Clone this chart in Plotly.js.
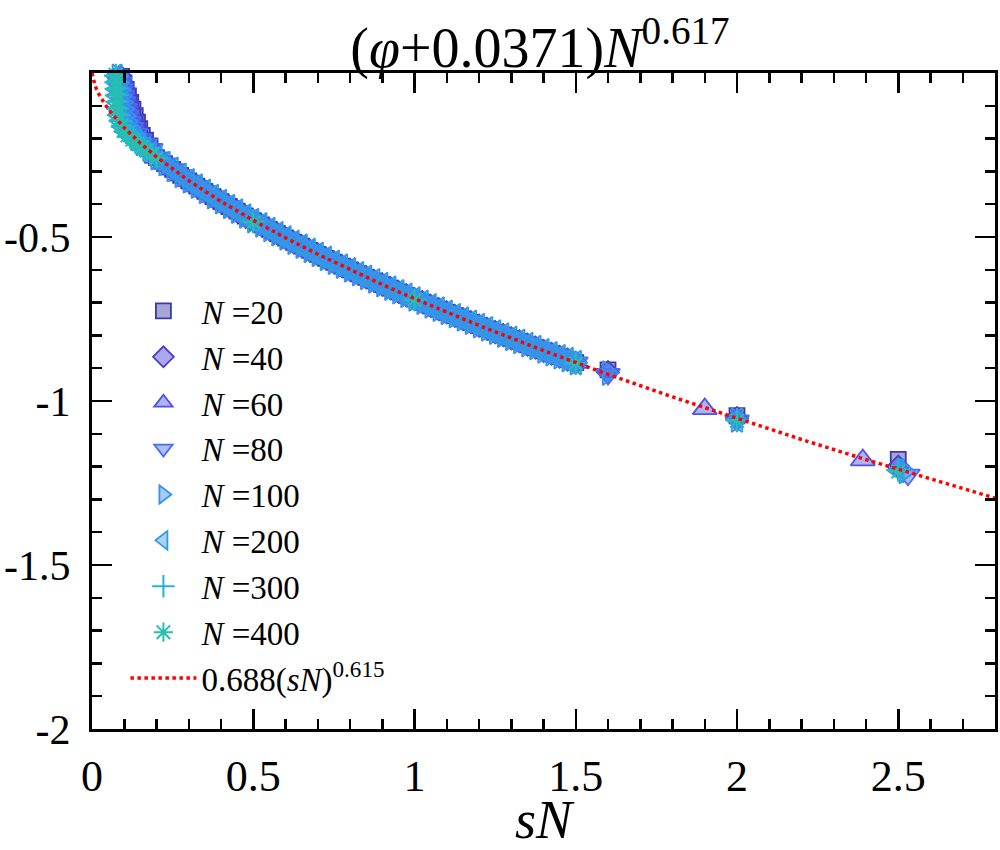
<!DOCTYPE html>
<html>
<head>
<meta charset="utf-8">
<script src="https://cdn.plot.ly/plotly-3.0.1.min.js"></script>
<style>html,body{margin:0;padding:0;background:#fff;}#chart{width:1000px;height:850px;}</style>
</head>
<body>
<div id="chart"></div>
<script>
// ---- data ----
const seriesNames = ['20','40','60','80','100','200','300','400'];
const yTickVals = [-2, -1.5, -1, -0.5];
const yTickText = ['-2', '-1.5', '-1', '-0.5'];

// shared collapsed band (sN, scaled phi) where N = 20 ... 200 overlap
const bandSN = [0.2,0.225,0.25,0.275,0.3,0.325,0.35,0.375,0.4,0.425,0.45,0.475,0.5,0.525,0.55,0.575,0.6,0.625,0.65,0.675,0.7,0.725,0.75,0.775,0.8,0.825,0.85,0.875,0.9,0.925,0.95,0.975,1.0,1.025,1.05,1.075,1.1,1.125,1.15,1.175,1.2,1.225,1.25,1.275,1.3,1.325,1.35,1.375,1.4,1.425,1.45,1.475,1.5];
const bandY = [-0.258,-0.276,-0.294,-0.312,-0.329,-0.345,-0.361,-0.377,-0.392,-0.407,-0.421,-0.436,-0.450,-0.463,-0.477,-0.490,-0.503,-0.516,-0.528,-0.541,-0.553,-0.565,-0.577,-0.589,-0.600,-0.612,-0.623,-0.634,-0.645,-0.656,-0.667,-0.678,-0.689,-0.699,-0.710,-0.720,-0.730,-0.740,-0.750,-0.760,-0.770,-0.780,-0.790,-0.799,-0.809,-0.818,-0.828,-0.837,-0.847,-0.856,-0.865,-0.874,-0.883];

// start (small sN) part of each series
const head20x = [0.085,0.092,0.099,0.106,0.113,0.12,0.127,0.134,0.141,0.148,0.156,0.166,0.18];
const head20y = [0.01,-0.01,-0.03,-0.05,-0.07,-0.09,-0.11,-0.13,-0.15,-0.17,-0.19,-0.205,-0.222];
const head40x = [0.082,0.088,0.094,0.1,0.106,0.112,0.118,0.124,0.131,0.139,0.148,0.16,0.18];
const head40y = [0.01,-0.01,-0.03,-0.05,-0.07,-0.09,-0.11,-0.13,-0.15,-0.17,-0.19,-0.205,-0.225];
const head60x = [0.08,0.085,0.09,0.095,0.1,0.105,0.11,0.116,0.123,0.131,0.141,0.155,0.175];
const head60y = [0.01,-0.01,-0.03,-0.05,-0.07,-0.09,-0.11,-0.13,-0.15,-0.17,-0.188,-0.205,-0.225];
const head80x = [0.078,0.082,0.086,0.09,0.094,0.098,0.103,0.108,0.115,0.123,0.134,0.148,0.165,0.182];
const head80y = [0.01,-0.01,-0.03,-0.05,-0.07,-0.09,-0.11,-0.13,-0.15,-0.168,-0.186,-0.203,-0.218,-0.232];
const head100x = [0.077,0.08,0.083,0.087,0.09,0.094,0.098,0.103,0.109,0.117,0.127,0.14,0.155,0.175];
const head100y = [0.01,-0.01,-0.03,-0.05,-0.07,-0.09,-0.11,-0.13,-0.148,-0.166,-0.183,-0.2,-0.215,-0.232];
const head200x = [0.075,0.076,0.077,0.078,0.079,0.08,0.082,0.085,0.09,0.097,0.107,0.12,0.135,0.15,0.165,0.182];
const head200y = [0.012,-0.01,-0.03,-0.05,-0.07,-0.09,-0.11,-0.13,-0.148,-0.165,-0.18,-0.195,-0.208,-0.22,-0.232,-0.245];
const head300x = [0.074,0.074,0.075,0.076,0.077,0.078,0.08,0.083,0.088,0.095,0.105,0.118,0.133,0.148,0.163,0.18,0.2];
const head300y = [0.013,-0.008,-0.028,-0.048,-0.068,-0.088,-0.108,-0.128,-0.146,-0.164,-0.18,-0.195,-0.208,-0.22,-0.233,-0.246,-0.26];
const head400x = [0.073,0.073,0.074,0.075,0.076,0.077,0.078,0.08,0.083,0.089,0.098,0.11,0.125,0.14,0.155,0.17,0.186,0.2];
const head400y = [0.015,-0.005,-0.025,-0.045,-0.065,-0.085,-0.105,-0.125,-0.143,-0.16,-0.176,-0.19,-0.203,-0.215,-0.226,-0.237,-0.248,-0.26];

// isolated points (N = 300, 400 only sampled sparsely beyond sN = 0.2)
const tail20x = [1.6,2.0,2.5];   const tail20y = [-0.905,-1.045,-1.178];
const tail40x = [1.6,2.0,2.5];   const tail40y = [-0.912,-1.052,-1.200];
const tail60x = [1.9,2.39];      const tail60y = [-1.024,-1.180];
const tail80x = [1.6,2.0,2.53];  const tail80y = [-0.918,-1.060,-1.225];
const tail100x = [1.6,2.0,2.52]; const tail100y = [-0.915,-1.058,-1.215];
const tail200x = [2.0,2.5];      const tail200y = [-1.058,-1.212];
const tail300x = [0.5,1.0,1.5,2.0,2.5]; const tail300y = [-0.452,-0.690,-0.884,-1.058,-1.210];
const tail400x = [0.5,1.0,1.5,2.0,2.5]; const tail400y = [-0.455,-0.692,-0.886,-1.060,-1.215];
const usesBand = [true,true,true,true,true,true,false,false];

// fit curve 0.688(sN)^0.615 as drawn
const fitSN = [0,0.005,0.01,0.02,0.03,0.04,0.06,0.08,0.1,0.15,0.2,0.3,0.4,0.5,0.6,0.7,0.8,0.9,1.0,1.2,1.4,1.6,1.8,2.0,2.2,2.4,2.6,2.8];
const fitY = [0,-0.0265,-0.0405,-0.0621,-0.0796,-0.095,-0.122,-0.1455,-0.167,-0.2143,-0.2557,-0.3281,-0.3916,-0.4492,-0.5025,-0.5525,-0.5998,-0.6448,-0.688,-0.7696,-0.8462,-0.9186,-0.9876,-1.0537,-1.1173,-1.1788,-1.2382,-1.296];

// ---- styling ----
const heads = [[head20x,head20y],[head40x,head40y],[head60x,head60y],[head80x,head80y],[head100x,head100y],[head200x,head200y],[head300x,head300y],[head400x,head400y]];
const tails = [[tail20x,tail20y],[tail40x,tail40y],[tail60x,tail60y],[tail80x,tail80y],[tail100x,tail100y],[tail200x,tail200y],[tail300x,tail300y],[tail400x,tail400y]];
const symbols = ['square','diamond','triangle-up','triangle-down','triangle-right','triangle-left','cross-thin','asterisk'];
const sizes = [15,17,21,21,21,21,17,16];
const edge = ['#3b3ba6','#4a40cc','#4f55e2','#4a6cf0','#3a8ff0','#3399e6','#22b2da','#26bfb0'];
const fill = ['rgba(59,59,166,0.45)','rgba(74,64,204,0.45)','rgba(79,85,226,0.45)','rgba(74,108,240,0.45)','rgba(58,143,240,0.45)','rgba(51,153,230,0.42)','#22b2da','#26bfb0'];

const FONT = 'Liberation Serif, Times New Roman, serif';
const traces = seriesNames.map((n, i) => {
  const bx = usesBand[i] ? bandSN : [];
  const by = usesBand[i] ? bandY : [];
  return {
    x: heads[i][0].concat(bx, tails[i][0]),
    y: heads[i][1].concat(by, tails[i][1]),
    type: 'scatter', mode: 'markers', cliponaxis: false,
    name: '<i>N</i> =' + n, legendgroup: 'g' + i,
    marker: {symbol: symbols[i], size: sizes[i], color: fill[i],
             line: {color: edge[i], width: i >= 6 ? 2 : 1.8}}
  };
});
traces.push({
  x: fitSN, y: fitY, type: 'scatter', mode: 'lines', name: '0.688(<i>sN</i>)<sup>0.615</sup>',
  legendgroup: 'fit', line: {color: '#ff0000', width: 3.5, dash: 'dot'}
});

const minorTicks = {tickmode: 'linear', tick0: 0, dtick: 0.1, ticks: 'inside', ticklen: 10, tickwidth: 2.5, tickcolor: '#000'};
const layout = {
  width: 1000, height: 850,
  font: {family: FONT, size: 42, color: '#000'},
  margin: {l: 92, r: 5, t: 73, b: 121},
  paper_bgcolor: '#fff', plot_bgcolor: '#fff',
  showlegend: true,
  title: {text: '(<i>φ</i>+0.0371)<i>N</i><sup>0.617</sup>', font: {family: FONT, size: 56, color: '#000'},
          x: 0.54, xanchor: 'center', y: 0.944, yanchor: 'middle'},
  xaxis: {
    range: [0, 2.8], tickmode: 'linear', tick0: 0, dtick: 0.5,
    showgrid: false, zeroline: false, showline: true, linecolor: '#000', linewidth: 3,
    mirror: 'ticks', ticks: 'inside', ticklen: 20, tickwidth: 2.5, tickcolor: '#000',
    tickfont: {family: FONT, size: 44, color: '#000'}, ticklabelstandoff: 6,
    minor: minorTicks,
    title: {text: '<i>sN</i>', font: {family: FONT, size: 54, color: '#000'}, standoff: 12}
  },
  yaxis: {
    range: [-2, 0], tickmode: 'array', tickvals: yTickVals, ticktext: yTickText,
    showgrid: false, zeroline: false, showline: true, linecolor: '#000', linewidth: 3,
    mirror: 'ticks', ticks: 'inside', ticklen: 20, tickwidth: 2.5, tickcolor: '#000',
    tickfont: {family: FONT, size: 42, color: '#000'}, ticklabelstandoff: 10,
    minor: minorTicks
  },
  legend: {x: 0.037, y: 0.68, xanchor: 'left', yanchor: 'top', bgcolor: 'rgba(0,0,0,0)',
           font: {family: FONT, size: 33, color: '#000'}, itemwidth: 66, tracegroupgap: 0,
           itemsizing: 'trace'}
};
Plotly.newPlot('chart', traces, layout, {staticPlot: true, displayModeBar: false});
</script>
</body>
</html>
